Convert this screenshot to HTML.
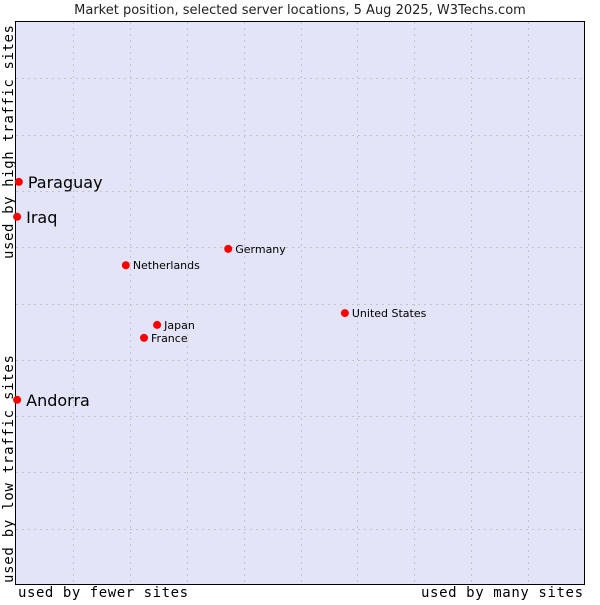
<!DOCTYPE html>
<html><head><meta charset="utf-8"><style>
body{margin:0;background:#fff;width:600px;height:600px;overflow:hidden}
svg text{font-family:"DejaVu Sans","Liberation Sans",sans-serif}
.mono{font-family:"DejaVu Sans Mono","Liberation Mono",monospace}
</style></head><body>
<svg id="chart" width="600" height="600">
<text x="300" y="14" text-anchor="middle" font-size="13" fill="#222">Market position, selected server locations, 5 Aug 2025, W3Techs.com</text>
<rect x="15.5" y="21.5" width="569" height="563" fill="#e3e4f7" stroke="#000" stroke-width="1"/>
<g id="grid"></g>
<g id="points"></g>
<text class="mono" x="18" y="597" font-size="14" textLength="170" fill="#000">used by fewer sites</text>
<text class="mono" x="583" y="597" font-size="14" textLength="162" text-anchor="end" fill="#000">used by many sites</text>
<text class="mono" transform="translate(13,583) rotate(-90)" font-size="14" textLength="228" fill="#000">used by low traffic sites</text>
<text class="mono" transform="translate(13,259) rotate(-90)" font-size="14" textLength="234" fill="#000">used by high traffic sites</text>
</svg>
<script>
const names = ["Paraguay","Iraq","Andorra","Netherlands","Germany","United States","Japan","France"];
const xValues = [0.5,0.2,0.2,19.3,37.3,57.8,24.8,22.5];
const yValues = [71.6,65.4,32.9,56.8,59.7,48.3,46.2,43.9];
const highlighted = [true,true,true,false,false,false,false,false];
const L=16,R=585,T=22,B=585;
const sx=v=>L+v/100*(R-L);
const sy=v=>B-v/100*(B-T);
const NS="http://www.w3.org/2000/svg";
const grid=document.getElementById('grid');
for(let i=1;i<10;i++){
  const lx=document.createElementNS(NS,'line');
  const x=Math.round(sx(i*10))+0.5;
  lx.setAttribute('x1',x);lx.setAttribute('x2',x);lx.setAttribute('y1',T);lx.setAttribute('y2',B);
  lx.setAttribute('stroke','#c4c4c8');lx.setAttribute('stroke-dasharray','2,4');
  
  
  grid.appendChild(lx);
  const ly=document.createElementNS(NS,'line');
  const y=Math.round(sy(i*10))+0.5;
  ly.setAttribute('x1',L);ly.setAttribute('x2',R);ly.setAttribute('y1',y);ly.setAttribute('y2',y);
  ly.setAttribute('stroke','#c4c4c8');ly.setAttribute('stroke-dasharray','2,4');
  
  
  grid.appendChild(ly);
}
const pts=document.getElementById('points');
names.forEach((n,i)=>{
  const x=sx(xValues[i]),y=sy(yValues[i]);
  const c=document.createElementNS(NS,'circle');
  c.setAttribute('cx',x);c.setAttribute('cy',y);c.setAttribute('r',4);c.setAttribute('fill','#f00');
  
  
  pts.appendChild(c);
  const t=document.createElementNS(NS,'text');
  t.setAttribute('x',x+(highlighted[i]?9:7));t.setAttribute('y',y+(highlighted[i]?6:4));
  t.setAttribute('font-size',highlighted[i]?16:11);t.setAttribute('fill','#000');
  t.textContent=n;
  
  
  pts.appendChild(t);
});
</script>
</body></html>
